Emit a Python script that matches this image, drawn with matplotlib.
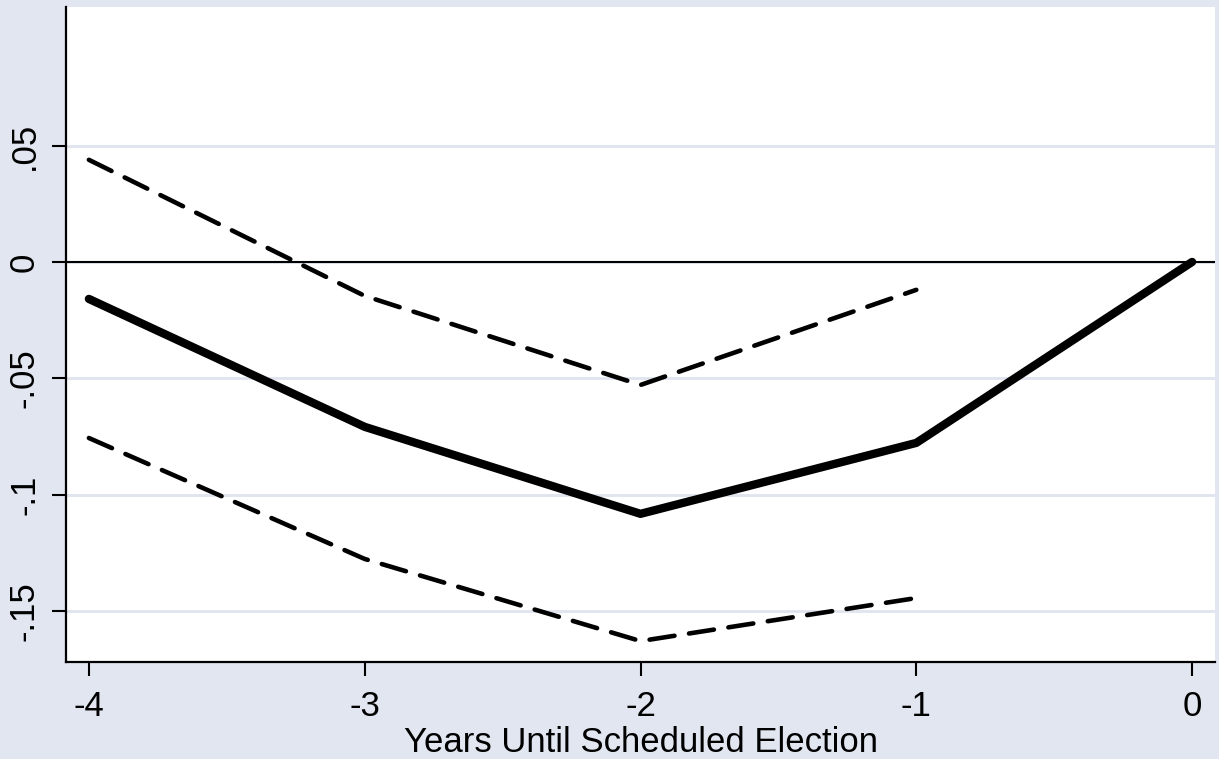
import numpy as np
import matplotlib.pyplot as plt

plt.rcParams['font.family'] = ['Liberation Sans', 'DejaVu Sans']

# Data
years = [-4, -3, -2, -1, 0]
estimate = [-0.0159, -0.0709, -0.1083, -0.0778, 0.0]
ci_years = [-4, -3, -2, -1]
ci_upper = [0.0439, -0.0146, -0.0529, -0.0120]
ci_lower = [-0.0757, -0.1277, -0.1630, -0.1445]
yticks = [0.05, 0.0, -0.05, -0.1, -0.15]
ytick_labels = ['.05', '0', '-.05', '-.1', '-.15']

bg = '#e1e6f0'
W, H = 1219, 759
fig = plt.figure(figsize=(W / 100, H / 100), dpi=100, facecolor=bg)
ax = fig.add_axes([66 / W, 1 - 662 / H, (1215 - 66) / W, (662 - 7) / H])
ax.set_facecolor('white')

ax.set_xlim(-4.083, 0.083)
ax.set_ylim(-0.172, 0.1096)

for yv in yticks:
    ax.axhline(yv, color='#dfe4ee', lw=2, zorder=0)
ax.axhline(0, color='black', lw=1.5, zorder=1)

ax.plot(years, estimate, color='black', lw=6.0, solid_capstyle='round',
        solid_joinstyle='round', zorder=3)
for ci in (ci_upper, ci_lower):
    ax.plot(ci_years, ci, color='black', lw=3.3, dashes=(5.5, 3.2),
            dash_capstyle='round', zorder=2)

ax.set_yticks(yticks)
ax.set_yticklabels(ytick_labels, rotation=90, va='center')
ax.set_xticks(years)
ax.set_xticklabels([str(y) for y in years])
ax.tick_params(axis='both', length=10, width=1.5, labelsize=25, color='black')
ax.tick_params(axis='y', pad=8)
ax.tick_params(axis='x', pad=10)

for s in ('top', 'right'):
    ax.spines[s].set_visible(False)
for s in ('left', 'bottom'):
    ax.spines[s].set_linewidth(1.6)

ax.set_xlabel('Years Until Scheduled Election', fontsize=25, labelpad=2)

fig.savefig('out.png', dpi=100, facecolor=bg)
